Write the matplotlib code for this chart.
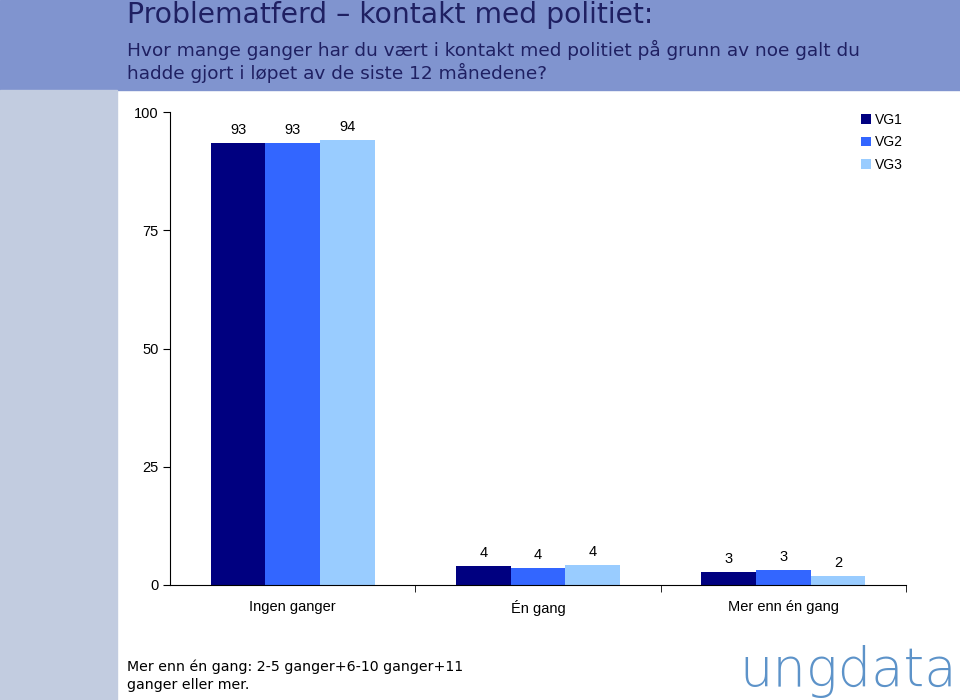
import matplotlib.pyplot as plt
from matplotlib.patches import Rectangle
import numpy as np

kategorier = ['Ingen ganger', 'Én gang', 'Mer enn én gang']
serier = ['VG1', 'VG2', 'VG3']
vg1 = [93.4, 4.0, 2.7]
vg2 = [93.4, 3.6, 3.2]
vg3 = [94.1, 4.2, 1.9]
y_ticks = [0, 25, 50, 75, 100]

farger = ['#000080', '#3366ff', '#99ccff']
tittel = 'Problematferd \u2013 kontakt med politiet:'
undertittel = ('Hvor mange ganger har du vært i kontakt med politiet på grunn av noe galt du\n'
               'hadde gjort i løpet av de siste 12 månedene?')
fotnote = 'Mer enn én gang: 2-5 ganger+6-10 ganger+11\nganger eller mer.'

fig = plt.figure(figsize=(9.6, 7), dpi=100)

# bakgrunn: topplinje og venstre stripe
fig.patches.append(Rectangle((0, 1 - 90 / 700), 1, 90 / 700, transform=fig.transFigure,
                             color='#8094cf', zorder=0))
fig.patches.append(Rectangle((0, 0), 117 / 960, 1 - 90 / 700, transform=fig.transFigure,
                             color='#c2cce0', zorder=0))

fig.text(127 / 960, 1 - 1 / 700, tittel, fontsize=20.3, color='#1f2062', va='top',
         family='DejaVu Sans')
fig.text(127 / 960, 1 - 40 / 700, undertittel, fontsize=13.3, color='#1f2062', va='top',
         family='DejaVu Sans', linespacing=1.15)

ax = fig.add_axes([170 / 960, 1 - 585 / 700, (906 - 170) / 960, (585 - 112) / 700])

x = np.arange(len(kategorier))
b = 0.2224
for i, (verdier, navn) in enumerate(zip([vg1, vg2, vg3], serier)):
    pos = x + (i - 1) * b
    ax.bar(pos, verdier, width=b, color=farger[i], label=navn, zorder=2)
    for p, v in zip(pos, verdier):
        ax.text(p, v + 1.3, f'{round(v):d}', ha='center', va='bottom',
                fontsize=10.5, family='Liberation Sans')

ax.set_xlim(-0.5, 2.5)
ax.set_ylim(0, 100)
ax.set_yticks(y_ticks)
ax.set_yticklabels([str(t) for t in y_ticks], family='Liberation Sans', fontsize=10.5)
ax.set_xticks(x)
ax.set_xticklabels(kategorier, family='Liberation Sans', fontsize=10.5)
ax.tick_params(axis='x', which='major', length=0, pad=11)
ax.set_xticks([0.5, 1.5, 2.5], minor=True)
ax.tick_params(axis='x', which='minor', length=5, direction='out')
ax.tick_params(axis='y', length=5, direction='out', pad=3)
for s in ['top', 'right']:
    ax.spines[s].set_visible(False)

leg = ax.legend(loc='upper left', bbox_to_anchor=(0.922, 1.025), frameon=False,
                handlelength=0.7, handleheight=0.7, handletextpad=0.3,
                labelspacing=0.62, prop={'family': 'Liberation Sans', 'size': 10})

fig.text(127 / 960, 1 - 660 / 700, fotnote, fontsize=10.2, va='top',
         family='DejaVu Sans', linespacing=1.3)
fig.text(957 / 960, 1 - 698 / 700, 'ungdata', fontsize=38, color='#5d93c9',
         ha='right', va='bottom', family='DejaVu Sans', fontweight='light')

fig.savefig('out.png', dpi=100)
